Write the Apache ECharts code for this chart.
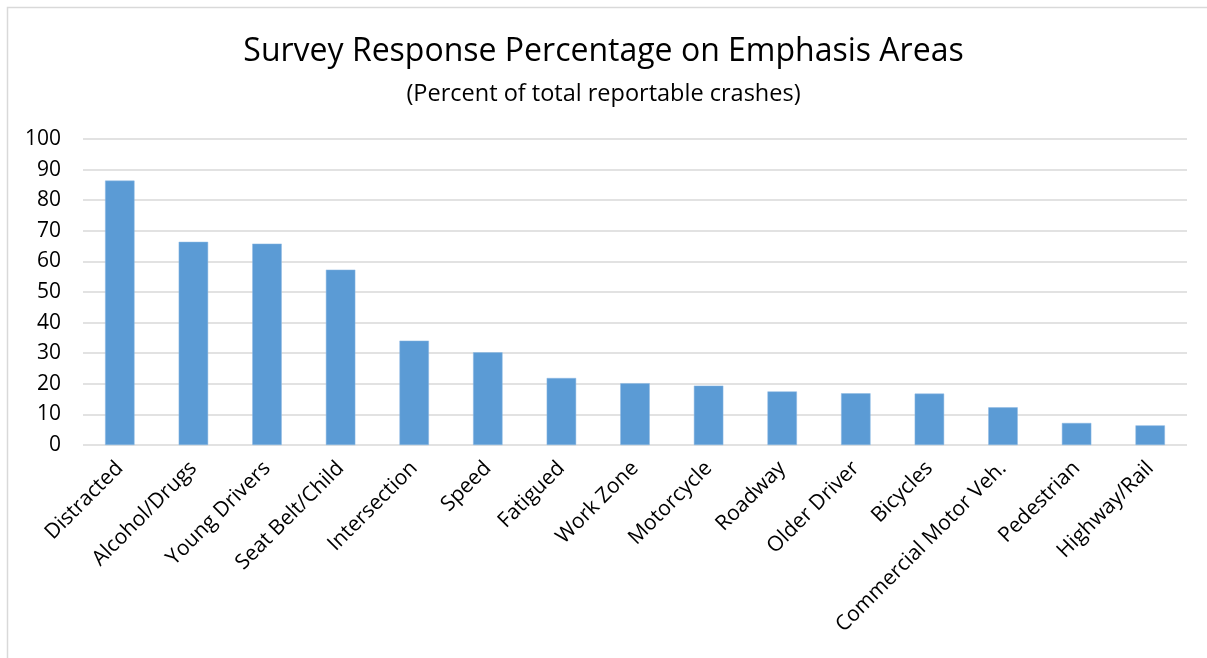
<!DOCTYPE html>
<html>
<head>
<meta charset="utf-8">
<script src="https://cdn.jsdelivr.net/npm/echarts@6/dist/echarts.min.js"></script>
<style>
  html, body { margin: 0; padding: 0; background: #fff; }
  #chart { width: 1207px; height: 658px; }
</style>
</head>
<body>
<div id="chart"></div>
<script>
const categories = ['Distracted', 'Alcohol/Drugs', 'Young Drivers', 'Seat Belt/Child', 'Intersection', 'Speed',
  'Fatigued', 'Work Zone', 'Motorcycle', 'Roadway', 'Older Driver', 'Bicycles', 'Commercial Motor Veh.',
  'Pedestrian', 'Highway/Rail'];
const percents = [86.4, 66.4, 65.8, 57.3, 34.1, 30.3, 21.9, 20.2, 19.4, 17.5, 16.9, 16.8, 12.3, 7.2, 6.4];

const FONT = '"Open Sans", "Noto Sans", sans-serif';
const chart = echarts.init(document.getElementById('chart'));
chart.setOption({
  animation: false,
  title: {
    text: 'Survey Response Percentage on Emphasis Areas',
    subtext: '(Percent of total reportable crashes)',
    left: 'center',
    top: 31,
    itemGap: 14,
    textStyle: { fontFamily: FONT, fontSize: 32, fontWeight: 'normal', color: '#000' },
    subtextStyle: { fontFamily: FONT, fontSize: 23.5, color: '#000' }
  },
  graphic: [{
    type: 'rect',
    shape: { x: 7.5, y: 7.5, width: 1220, height: 680 },
    style: { fill: 'none', stroke: '#d9d9d9', lineWidth: 1.5 },
    silent: true
  }],
  grid: { left: 83, right: 20, top: 139, bottom: 213 },
  xAxis: {
    type: 'category',
    data: categories,
    axisLine: { show: false },
    axisTick: { show: false },
    axisLabel: { rotate: 45, interval: 0, margin: 20, fontFamily: FONT, fontSize: 21, color: '#000' }
  },
  yAxis: {
    type: 'value',
    min: 0, max: 100, interval: 10,
    axisLine: { show: false },
    axisTick: { show: false },
    axisLabel: { margin: 22, fontFamily: FONT, fontSize: 21, color: '#000' },
    splitLine: { lineStyle: { color: '#d9d9d9', width: 1.5 } }
  },
  series: [{
    type: 'bar',
    data: percents,
    barWidth: '40%',
    itemStyle: { color: '#5b9bd5', borderColor: '#8db8e3', borderWidth: 0.5 }
  }]
});
</script>
</body>
</html>
